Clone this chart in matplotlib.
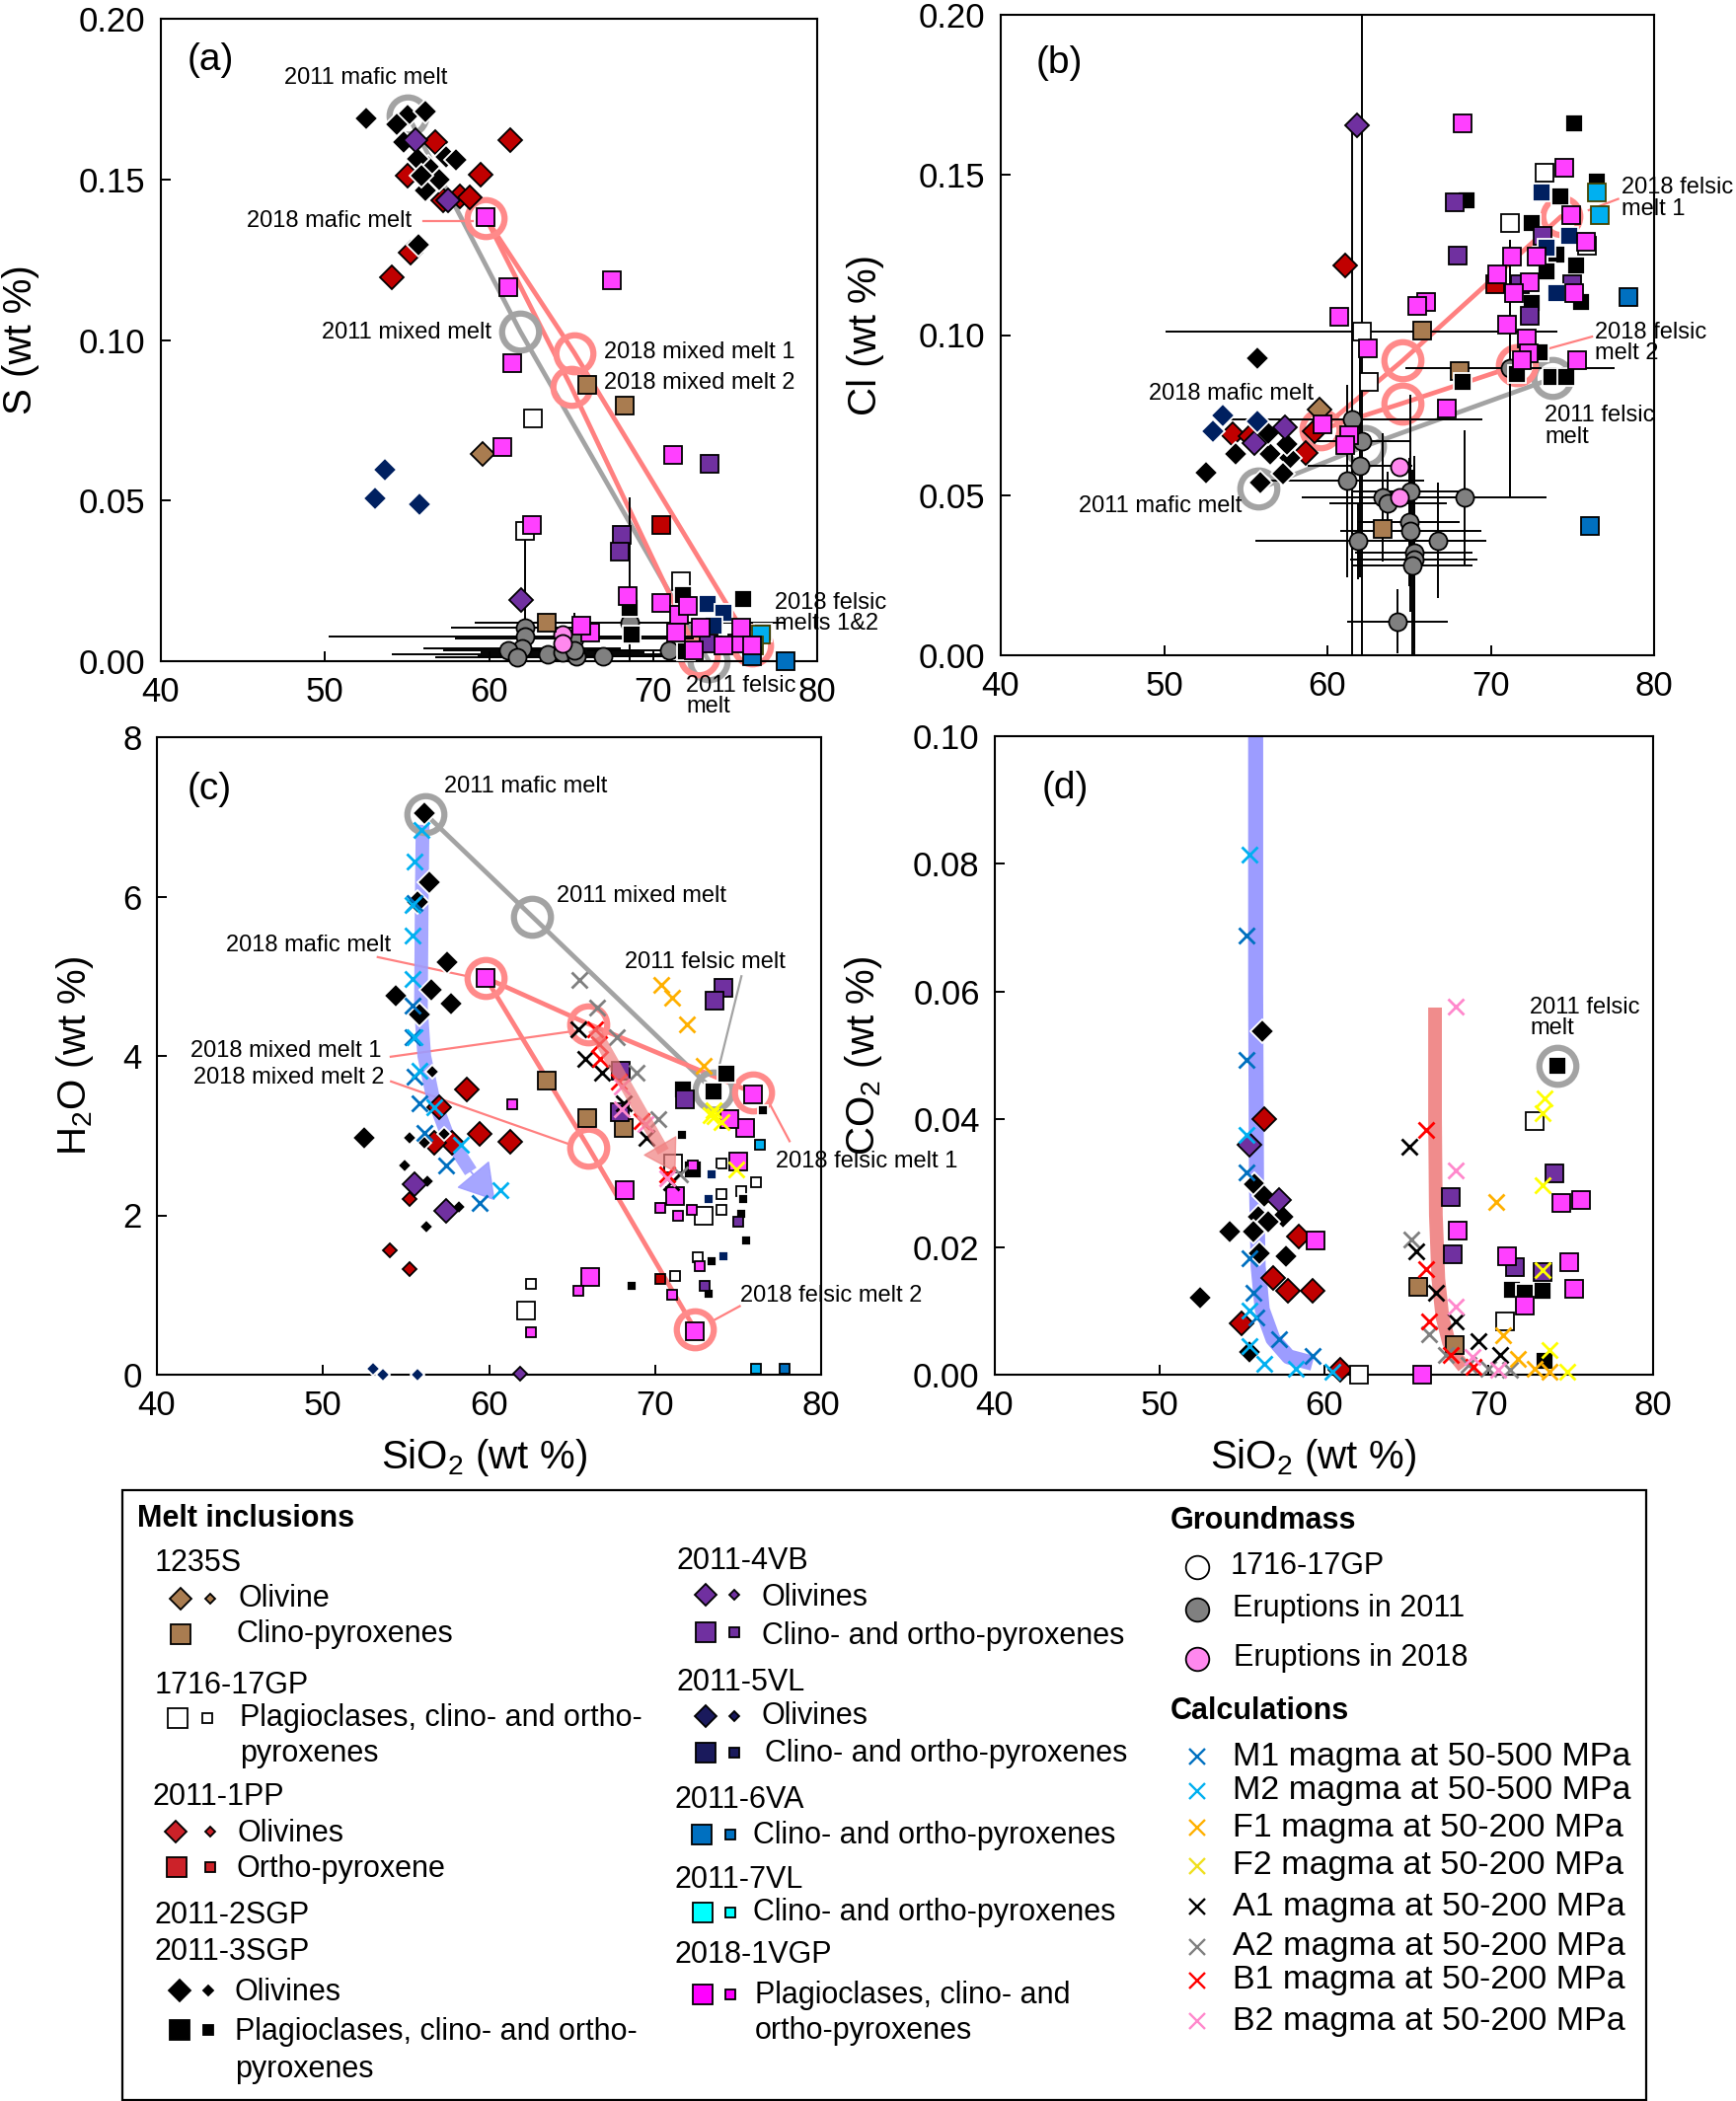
import matplotlib
matplotlib.use('Agg')
import matplotlib.pyplot as plt
from matplotlib.patches import Rectangle

plt.rcParams['font.family'] = ['Liberation Sans', 'DejaVu Sans']
plt.rcParams['mathtext.fontset'] = 'custom'
plt.rcParams['mathtext.rm'] = 'Liberation Sans'
plt.rcParams['mathtext.it'] = 'Liberation Sans:italic'
plt.rcParams['mathtext.bf'] = 'Liberation Sans:bold'

# ---------------- colours ----------------
BROWN = '#A97C50'; RED = '#C00000'; PURPLE = '#7030A0'; NAVY = '#002060'
BLUE6 = '#0070C0'; CYAN7 = '#00B0F0'; MAG = '#FF40FF'; GREY = '#808080'; GPINK = '#FF88EE'
C_M1 = '#0070C0'; C_M2 = '#00B0F0'; C_F1 = '#FFB000'; C_F2 = '#FFFF00'
C_A1 = '#000000'; C_A2 = '#808080'; C_B1 = '#FF0000'; C_B2 = '#FF88CC'
RING_G = '#A3A3A3'; RING_P = '#FF8A8A'; LINE_P = '#FF8080'

# ---------------- Panel (a) : S ----------------
A_SGP_OL_X = [52.5, 55.05, 56.1, 54.4, 54.8, 56.3, 57.4, 58.0, 55.65, 56.1, 55.7, 56.95, 55.9]
A_SGP_OL_Y = [0.169, 0.170, 0.171, 0.167, 0.1616, 0.154, 0.157, 0.156, 0.1564, 0.1466, 0.1297, 0.150, 0.151]
A_PP_OL_X = [56.7, 55.05, 57.2, 58.2, 58.8, 59.5, 61.3, 55.2, 54.1]
A_PP_OL_Y = [0.1616, 0.151, 0.1434, 0.1448, 0.1444, 0.1516, 0.1622, 0.1273, 0.1194]
A_VB_OL_X = [55.5, 57.5, 61.95]
A_VB_OL_Y = [0.1622, 0.1434, 0.019]
A_S1235_OL_X = [59.6]
A_S1235_OL_Y = [0.0645]
A_VL5_OL_X = [53.65, 53.05, 55.76]
A_VL5_OL_Y = [0.0597, 0.0508, 0.049]
A_VGP_X = [59.8, 61.2, 67.5, 61.4, 60.8, 62.6, 71.2, 68.45, 70.5, 71.6, 72.1, 72.9, 66.15, 65.6,
           71.4, 72.5, 75.1, 75.35, 76.0, 74.3]
A_VGP_Y = [0.1382, 0.1164, 0.1187, 0.0927, 0.0666, 0.0423, 0.0641, 0.0204, 0.0182, 0.0145, 0.0172,
           0.0103, 0.009, 0.011, 0.009, 0.0035, 0.0055, 0.0103, 0.0049, 0.0049]
A_S1235_CPX_X = [65.96, 68.3, 63.5]
A_S1235_CPX_Y = [0.0861, 0.0796, 0.0121]
A_GP_PX_X = [62.7, 62.2, 71.7]
A_GP_PX_Y = [0.0755, 0.0405, 0.0248]
A_VB_PX_X = [73.45, 68.1, 67.96, 73.4]
A_VB_PX_Y = [0.0614, 0.0392, 0.0341, 0.0056]
A_PP_OPX_X = [70.5]
A_PP_OPX_Y = [0.0423]
A_SGP_PX_X = [71.8, 75.5, 68.6, 68.7, 76.7, 72.0]
A_SGP_PX_Y = [0.0206, 0.0193, 0.0165, 0.0083, 0.009, 0.003]
A_VL5_PX_X = [73.3, 74.3, 73.7]
A_VL5_PX_Y = [0.0179, 0.0152, 0.011]
A_VL7_PX_X = [76.56, 76.15]
A_VL7_PX_Y = [0.0083, 0.0049]
A_VA6_PX_X = [78.05, 76.0]
A_VA6_PX_Y = [0.0, 0.0014]
A_GM11_X = [62.2, 62.2, 62.0, 61.2, 63.6, 64.5, 65.2, 65.3, 66.95, 68.6, 71.0, 61.7, 65.2]
A_GM11_Y = [0.0104, 0.0076, 0.004, 0.0035, 0.0021, 0.0028, 0.007, 0.0014, 0.0014, 0.0121, 0.0035, 0.0012, 0.0035]
A_GM11_XERR = [4.5, 12, 6, 4, 9.5, 5, 7.3, 6, 4, 9.5, 5, 5, 4]
A_GM11_YERR = [0.032, 0.002, 0.002, 0.002, 0.002, 0.002, 0.008, 0.002, 0.002, 0.039, 0.002, 0.002, 0.002]
A_GM18_X = [64.5, 64.5]
A_GM18_Y = [0.0083, 0.0056]
A_M2011_X = [55.05, 61.9, 73.4]
A_M2011_Y = [0.170, 0.1027, 0.0]
A_M2018_1_X = [59.8, 65.2, 76.0]
A_M2018_1_Y = [0.138, 0.096, 0.005]
A_M2018_2_X = [59.8, 65.0, 72.8]
A_M2018_2_Y = [0.138, 0.0855, 0.0015]

# ---------------- Panel (b) : Cl ----------------
B_SGP_OL_X = [55.7, 52.55, 54.36, 56.5, 57.7, 55.9, 57.3, 56.4, 57.5]
B_SGP_OL_Y = [0.0928, 0.0571, 0.0628, 0.0628, 0.0617, 0.054, 0.0566, 0.0694, 0.0658]
B_PP_OL_X = [61.1, 54.2, 55.3, 58.7, 59.2]
B_PP_OL_Y = [0.1216, 0.0689, 0.0684, 0.0633, 0.070]
B_VB_OL_X = [61.8, 57.4, 55.5]
B_VB_OL_Y = [0.1654, 0.0712, 0.0664]
B_VL5_OL_X = [53.6, 53.0, 55.7]
B_VL5_OL_Y = [0.075, 0.0698, 0.073]
B_S1235_OL_X = [59.5]
B_S1235_OL_Y = [0.0766]
B_VGP_X = [68.25, 74.5, 74.9, 75.85, 71.27, 72.8, 70.4, 72.4, 71.4, 75.1, 71.0, 72.2, 72.35, 71.9,
           75.3, 66.06, 65.5, 60.7, 62.47, 67.3, 59.7, 61.3, 61.1]
B_VGP_Y = [0.1661, 0.1521, 0.1373, 0.129, 0.1246, 0.1246, 0.1191, 0.1164, 0.1132, 0.1132, 0.1031,
           0.0988, 0.0944, 0.092, 0.092, 0.1102, 0.109, 0.1057, 0.0958, 0.0771, 0.0722, 0.0687, 0.0655]
B_S1235_CPX_X = [65.8, 68.1, 63.4]
B_S1235_CPX_Y = [0.1013, 0.0889, 0.0395]
B_GP_PX_X = [73.3, 71.2, 62.1, 62.55, 75.9]
B_GP_PX_Y = [0.1507, 0.135, 0.1011, 0.0855, 0.128]
B_GP_PX_XERR = [0, 0, 12, 0, 0]
B_SGP_PX_X = [75.1, 76.5, 68.5, 74.25, 72.5, 75.2, 75.5, 73.0, 68.25, 73.7, 74.6, 71.6, 72.5, 74.0, 73.4]
B_SGP_PX_Y = [0.1661, 0.148, 0.1421, 0.1434, 0.135, 0.1218, 0.1102, 0.0946, 0.0855, 0.0869, 0.0869,
              0.0878, 0.110, 0.125, 0.120]
B_VB_PX_X = [67.8, 67.96, 73.2, 72.4, 75.0, 71.8]
B_VB_PX_Y = [0.1414, 0.1249, 0.131, 0.106, 0.116, 0.116]
B_VL5_PX_X = [73.1, 74.8, 73.4, 74.0]
B_VL5_PX_Y = [0.1446, 0.131, 0.1274, 0.1132]
B_VL7_PX_X = [76.5, 76.7]
B_VL7_PX_Y = [0.1446, 0.1374]
B_VA6_PX_X = [78.4, 76.1]
B_VA6_PX_Y = [0.112, 0.0404]
B_PP_OPX_X = [70.3]
B_PP_OPX_Y = [0.116]
B_GM11_X = [61.5, 62.1, 62.0, 61.2, 63.4, 65.1, 63.7, 68.4, 65.0, 65.1, 61.9, 66.75, 65.3, 65.3, 65.2, 64.3, 71.2]
B_GM11_Y = [0.0735, 0.0669, 0.0592, 0.0544, 0.0494, 0.0513, 0.0474, 0.0494, 0.0417, 0.0387, 0.0356,
            0.0359, 0.0322, 0.0298, 0.028, 0.0105, 0.0896]
B_GM11_XERR = [8.0, 3.0, 3.2, 4.7, 5.0, 3.5, 3.6, 5.0, 3.1, 4.3, 6.3, 3.0, 3.6, 3.9, 3.7, 3.1, 6.4]
B_GM11_YERR = [0.092, 0.14, 0.035, 0.03, 0.02, 0.03, 0.01, 0.021, 0.02, 0.025, 0.012, 0.018, 0.03,
               0.03, 0.03, 0.01, 0.04]
B_GM18_X = [64.4, 64.4]
B_GM18_Y = [0.059, 0.0494]
B_M2011_X = [55.8, 62.3, 73.8]
B_M2011_Y = [0.052, 0.0653, 0.0865]
B_M2018_1_X = [59.6, 64.6, 74.3]
B_M2018_1_Y = [0.0705, 0.092, 0.137]
B_M2018_2_X = [59.6, 64.6, 71.6]
B_M2018_2_Y = [0.0705, 0.0787, 0.0905]

# ---------------- Panel (c) : H2O ----------------
C_SGP_OL_X = [56.1, 56.4, 55.7, 57.5, 54.4, 56.5, 57.7, 55.8, 52.5]
C_SGP_OL_Y = [7.05, 6.18, 5.93, 5.18, 4.76, 4.83, 4.66, 4.52, 2.97]
C_SGP_OLS_X = [56.6, 55.2, 56.1, 57.3, 54.9, 56.3, 58.2, 56.2]
C_SGP_OLS_Y = [3.80, 2.97, 2.91, 3.02, 2.63, 2.43, 2.10, 1.86]
C_PP_OL_X = [58.65, 59.45, 61.25, 57.0, 57.8, 56.7]
C_PP_OL_Y = [3.58, 3.02, 2.92, 3.35, 2.91, 2.91]
C_PP_OLS_X = [54.0, 55.2, 55.2]
C_PP_OLS_Y = [1.56, 1.33, 2.21]
C_VB_OL_X = [55.5, 57.4]
C_VB_OL_Y = [2.39, 2.06]
C_VL5_OLS_X = [53.0, 53.6, 55.7]
C_VL5_OLS_Y = [0.08, 0.0, 0.0]
C_VB_OLS_X = [61.9]
C_VB_OLS_Y = [0.01]
C_VGP_X = [59.8, 75.9, 75.4, 74.5, 75.0, 71.2, 68.2, 66.1, 72.4]
C_VGP_Y = [4.98, 3.52, 3.10, 3.21, 2.68, 2.24, 2.32, 1.22, 0.55]
C_VGPS_X = [61.4, 62.5, 65.4, 70.3, 71.4, 72.2, 72.3, 71.0, 72.7]
C_VGPS_Y = [3.39, 0.53, 1.05, 2.09, 1.99, 2.07, 2.63, 1.00, 1.36]
C_S1235_CPX_X = [63.5, 65.9, 68.1]
C_S1235_CPX_Y = [3.69, 3.22, 3.09]
C_GP_PX_X = [62.2, 72.95, 71.1]
C_GP_PX_Y = [0.80, 1.99, 2.65]
C_GP_PXS_X = [62.5, 71.2, 74.0, 74.0, 74.0, 76.1, 72.55, 75.2]
C_GP_PXS_Y = [1.14, 1.24, 2.65, 2.27, 2.07, 2.42, 1.47, 2.30]
C_VB_PX_X = [74.1, 73.6, 71.8, 67.95, 67.9]
C_VB_PX_Y = [4.85, 4.69, 3.45, 3.82, 3.29]
C_VB_PXS_X = [73.0, 75.0]
C_VB_PXS_Y = [1.11, 1.92]
C_SGP_PX_X = [71.7, 74.3, 73.5, 72.3]
C_SGP_PX_Y = [3.58, 3.78, 3.55, 2.57]
C_SGP_PXS_X = [76.5, 71.6, 75.3, 75.2, 75.5, 73.4, 73.2, 68.6]
C_SGP_PXS_Y = [3.32, 3.01, 2.21, 2.02, 1.69, 1.42, 1.02, 1.11]
C_VL5_PXS_X = [73.4, 73.2, 74.1]
C_VL5_PXS_Y = [2.51, 2.21, 1.49]
C_PP_OPXS_X = [70.3]
C_PP_OPXS_Y = [1.20]
C_VL7_PXS_X = [76.3, 76.1]
C_VL7_PXS_Y = [2.88, 0.08]
C_VA6_PXS_X = [77.8]
C_VA6_PXS_Y = [0.08]
C_M1_X = [55.5, 55.4, 55.4, 55.5, 55.8, 56.1, 57.4, 59.45]
C_M1_Y = [5.92, 4.63, 4.23, 3.74, 3.41, 3.04, 2.63, 2.16]
C_M2_X = [55.9, 55.5, 55.4, 55.4, 55.4, 55.5, 55.8, 56.7, 58.3, 60.7]
C_M2_Y = [6.83, 6.44, 5.89, 5.51, 4.96, 4.23, 3.82, 3.35, 2.88, 2.32]
C_F1_X = [70.4, 71.0, 71.9, 72.9]
C_F1_Y = [4.89, 4.73, 4.40, 3.88]
C_F2_X = [73.5, 73.6, 74.0, 73.35, 74.9]
C_F2_Y = [3.32, 3.24, 3.17, 3.26, 2.58]
C_A1_X = [65.4, 65.8, 66.8, 68.1, 69.5, 70.95]
C_A1_Y = [4.33, 3.96, 3.79, 3.40, 2.97, 2.41]
C_A2_X = [65.45, 66.5, 67.7, 68.9, 70.2, 71.5]
C_A2_Y = [4.95, 4.61, 4.24, 3.79, 3.21, 2.52]
C_B1_X = [66.4, 66.6, 66.7, 67.8, 69.2, 70.7]
C_B1_Y = [4.34, 4.15, 3.96, 3.68, 3.18, 2.52]
C_B2_X = [68.0, 68.0, 69.4, 70.7]
C_B2_Y = [3.62, 3.33, 3.14, 2.46]
C_M2011_X = [56.15, 62.6, 73.5]
C_M2011_Y = [7.04, 5.75, 3.57]
C_M2018_1_X = [59.8, 66.0, 75.9]
C_M2018_1_Y = [4.98, 4.40, 3.54]
C_M2018_2_X = [59.8, 66.0, 72.4]
C_M2018_2_Y = [4.98, 2.85, 0.57]
C_TREND_M_X = [56.0, 55.95, 55.9, 56.1, 56.6, 57.5, 58.9]
C_TREND_M_Y = [6.9, 6.0, 4.6, 4.0, 3.5, 3.0, 2.55]
C_TREND_M_TIP = (60.3, 2.2)
C_TREND_F_X = [66.3, 70.5]
C_TREND_F_Y = [4.34, 2.8]
C_TREND_F_TIP = (71.2, 2.55)

# ---------------- Panel (d) : CO2 ----------------
D_SGP_OL_X = [56.25, 55.8, 56.4, 56.0, 57.5, 54.3, 55.7, 56.1, 57.7, 56.6, 52.45, 55.5]
D_SGP_OL_Y = [0.0538, 0.0299, 0.0279, 0.0248, 0.0248, 0.0224, 0.0224, 0.019, 0.0186, 0.024, 0.0121, 0.0035]
D_PP_OL_X = [56.4, 56.9, 57.8, 59.3, 58.5, 55.0, 61.0]
D_PP_OL_Y = [0.0401, 0.0152, 0.0131, 0.0131, 0.0216, 0.008, 0.0007]
D_VB_OL_X = [55.45, 57.3]
D_VB_OL_Y = [0.036, 0.0273]
D_VGP_X = [59.5, 65.95, 68.1, 74.45, 75.6, 71.1, 72.2, 74.9, 75.2]
D_VGP_Y = [0.021, 0.0, 0.0226, 0.0269, 0.0274, 0.0186, 0.0108, 0.0176, 0.0135]
D_VB_PX_X = [67.7, 67.8, 74.0, 71.6, 73.3]
D_VB_PX_Y = [0.0278, 0.0188, 0.0316, 0.0168, 0.016]
D_S1235_CPX_X = [65.7, 67.96]
D_S1235_CPX_Y = [0.0138, 0.0046]
D_GP_PX_X = [62.1, 72.8, 71.0]
D_GP_PX_Y = [0.0, 0.0397, 0.0083]
D_SGP_PX_X = [74.2, 71.4, 72.2, 73.3, 73.4]
D_SGP_PX_Y = [0.0483, 0.0133, 0.0128, 0.0131, 0.0021]
D_M1_X = [55.3, 55.3, 55.3, 55.5, 55.7, 55.9, 57.3, 59.3]
D_M1_Y = [0.0688, 0.0493, 0.0317, 0.0183, 0.0129, 0.009, 0.0055, 0.003]
D_M2_X = [55.5, 55.3, 55.5, 55.5, 56.4, 58.3, 60.5]
D_M2_Y = [0.0814, 0.0376, 0.010, 0.0045, 0.0017, 0.001, 0.0004]
D_F1_X = [70.45, 70.9, 71.8, 72.8, 73.7]
D_F1_Y = [0.0271, 0.0062, 0.0024, 0.001, 0.0004]
D_F2_X = [73.4, 73.3, 73.3, 73.3, 73.7, 74.8]
D_F2_Y = [0.0432, 0.041, 0.0297, 0.0164, 0.0038, 0.0004]
D_A1_X = [65.2, 65.6, 66.8, 68.0, 69.4, 70.7]
D_A1_Y = [0.0357, 0.0193, 0.0128, 0.0083, 0.0053, 0.0031]
D_A2_X = [65.3, 66.4, 67.4, 68.8, 70.0, 71.3]
D_A2_Y = [0.0212, 0.0064, 0.0031, 0.0016, 0.001, 0.0007]
D_B1_X = [66.2, 66.2, 66.4, 67.7, 69.1]
D_B1_Y = [0.0383, 0.0166, 0.0083, 0.0031, 0.0012]
D_B2_X = [68.0, 68.0, 68.0, 69.0, 70.6]
D_B2_Y = [0.0577, 0.032, 0.0107, 0.0028, 0.0007]
D_M2011_FELSIC = (74.2, 0.0483)
D_TREND_M_X = [55.85, 55.85, 55.9, 56.0, 56.25, 56.9, 57.85, 59.3]
D_TREND_M_Y = [0.104, 0.06, 0.03, 0.017, 0.0102, 0.0056, 0.0028, 0.0018]
D_TREND_F_X = [66.75, 66.75, 66.8, 66.95, 67.2, 67.6, 68.1, 68.5]
D_TREND_F_Y = [0.0575, 0.04, 0.025, 0.015, 0.009, 0.005, 0.0025, 0.0012]

X_TICKS = [40, 50, 60, 70, 80]

# ---------------- figure ----------------
W, H = 1759, 2129
fig = plt.figure(figsize=(W / 100, H / 100), dpi=100)


def box(l, t, r, b):
    return [l / W, (H - b) / H, (r - l) / W, (b - t) / H]


L_SQ, S_SQ, L_DI, S_DI, CIRC, XMS, XMEW = 13, 7, 12, 7.5, 13, 11, 2.0


def mk(ax, x, y, marker, fc, ec, ms, mew=1.3, z=4):
    ax.plot(x, y, ls='none', marker=marker, mfc=fc, mec=ec, ms=ms, mew=mew, zorder=z, clip_on=False)


def cross(ax, x, y, c):
    ax.plot(x, y, ls='none', marker='x', ms=XMS, mew=XMEW, color=c, zorder=6, clip_on=False)


def ring(ax, x, y, c):
    ax.plot([x], [y], ls='none', marker='o', ms=27, mfc='none', mec=c, mew=4.5, zorder=2.5, clip_on=False)


def path(ax, x, y, c):
    ax.plot(x, y, color=c, lw=3.4, zorder=2, solid_capstyle='round')


def lead(ax, x, y, c=LINE_P):
    ax.plot(x, y, color=c, lw=1.6, zorder=2)


def style(ax, ylim, yticks, yfmt):
    ax.set_xlim(40, 80)
    ax.set_ylim(*ylim)
    ax.set_xticks(X_TICKS)
    ax.set_xticklabels([str(v) for v in X_TICKS])
    ax.set_yticks(yticks)
    ax.set_yticklabels([yfmt.format(v) for v in yticks])
    ax.tick_params(direction='in', length=7, width=1.4, labelsize=25, pad=11)
    for s in ax.spines.values():
        s.set_linewidth(1.5)


ANN = 17

# ===== Panel (a) =====
ax = fig.add_axes(box(163, 19, 828, 670))
style(ax, (0, 0.2), [0, 0.05, 0.10, 0.15, 0.20], '{:.2f}')
path(ax, A_M2011_X, A_M2011_Y, RING_G)
path(ax, A_M2018_1_X, A_M2018_1_Y, LINE_P)
path(ax, A_M2018_2_X, A_M2018_2_Y, LINE_P)
for xx, yy in zip(A_M2011_X, A_M2011_Y):
    ring(ax, xx, yy, RING_G)
for xx, yy in zip(A_M2018_1_X + A_M2018_2_X[1:], A_M2018_1_Y + A_M2018_2_Y[1:]):
    ring(ax, xx, yy, RING_P)
ax.errorbar(A_GM11_X, A_GM11_Y, xerr=A_GM11_XERR, yerr=A_GM11_YERR, fmt='none', ecolor='k',
            elinewidth=1.4, zorder=2.8)
mk(ax, A_GM11_X, A_GM11_Y, 'o', GREY, 'k', CIRC, z=3)
mk(ax, A_GM18_X, A_GM18_Y, 'o', GPINK, 'k', CIRC, z=3)
mk(ax, A_PP_OL_X, A_PP_OL_Y, 'D', RED, 'k', L_DI, z=3.4)
mk(ax, A_SGP_OL_X, A_SGP_OL_Y, 'D', 'k', 'w', L_DI, z=3.5)
mk(ax, A_VB_OL_X, A_VB_OL_Y, 'D', PURPLE, 'k', L_DI, z=3.6)
mk(ax, A_VL5_OL_X, A_VL5_OL_Y, 'D', NAVY, 'w', L_DI, z=3.6)
mk(ax, A_S1235_OL_X, A_S1235_OL_Y, 'D', BROWN, 'k', L_DI, z=3.6)
mk(ax, A_GP_PX_X, A_GP_PX_Y, 's', 'w', 'k', L_SQ)
mk(ax, A_S1235_CPX_X, A_S1235_CPX_Y, 's', BROWN, 'k', L_SQ)
mk(ax, A_SGP_PX_X, A_SGP_PX_Y, 's', 'k', 'w', L_SQ)
mk(ax, A_VL5_PX_X, A_VL5_PX_Y, 's', NAVY, 'w', L_SQ)
mk(ax, A_VB_PX_X, A_VB_PX_Y, 's', PURPLE, 'k', L_SQ)
mk(ax, A_PP_OPX_X, A_PP_OPX_Y, 's', RED, 'k', L_SQ)
mk(ax, A_VL7_PX_X, A_VL7_PX_Y, 's', CYAN7, '#444400', L_SQ)
mk(ax, A_VA6_PX_X, A_VA6_PX_Y, 's', BLUE6, 'k', L_SQ)
mk(ax, A_VGP_X, A_VGP_Y, 's', MAG, 'k', L_SQ, z=4.2)
ax.text(43.0, 0.187, '(a)', fontsize=28, ha='center', va='center')
ax.text(52.5, 0.1815, '2011 mafic melt', fontsize=ANN, ha='center', va='center')
ax.text(50.25, 0.137, '2018 mafic melt', fontsize=ANN, ha='center', va='center')
lead(ax, [56.0, 59.0], [0.137, 0.137])
ax.text(55.0, 0.1023, '2011 mixed melt', fontsize=ANN, ha='center', va='center')
ax.text(67.0, 0.0962, '2018 mixed melt 1', fontsize=ANN, ha='left', va='center')
ax.text(67.0, 0.0866, '2018 mixed melt 2', fontsize=ANN, ha='left', va='center')
ax.text(77.4, 0.015, '2018 felsic\nmelts 1&2', fontsize=ANN, ha='left', va='center', linespacing=0.95)
ax.text(72.0, -0.011, '2011 felsic\nmelt', fontsize=ANN, ha='left', va='center', linespacing=0.95,
        clip_on=False, zorder=10)
ax.set_ylabel('S (wt %)', fontsize=29)
ax.yaxis.set_label_coords(-0.185, 0.5)

# ===== Panel (b) =====
ax = fig.add_axes(box(1014, 15, 1676, 664))
style(ax, (0, 0.2), [0, 0.05, 0.10, 0.15, 0.20], '{:.2f}')
path(ax, B_M2011_X, B_M2011_Y, RING_G)
path(ax, B_M2018_1_X, B_M2018_1_Y, LINE_P)
path(ax, B_M2018_2_X, B_M2018_2_Y, LINE_P)
for xx, yy in zip(B_M2011_X, B_M2011_Y):
    ring(ax, xx, yy, RING_G)
for xx, yy in zip(B_M2018_1_X + B_M2018_2_X[1:], B_M2018_1_Y + B_M2018_2_Y[1:]):
    ring(ax, xx, yy, RING_P)
ax.errorbar(B_GM11_X, B_GM11_Y, xerr=B_GM11_XERR, yerr=B_GM11_YERR, fmt='none', ecolor='k',
            elinewidth=1.4, zorder=2.8)
ax.errorbar(B_GP_PX_X, B_GP_PX_Y, xerr=B_GP_PX_XERR, fmt='none', ecolor='k', elinewidth=1.4, zorder=2.8)
mk(ax, B_GM11_X, B_GM11_Y, 'o', GREY, 'k', CIRC, z=3)
mk(ax, B_GM18_X, B_GM18_Y, 'o', GPINK, 'k', CIRC, z=3)
mk(ax, B_PP_OL_X, B_PP_OL_Y, 'D', RED, 'k', L_DI, z=3.4)
mk(ax, B_SGP_OL_X, B_SGP_OL_Y, 'D', 'k', 'w', L_DI, z=3.5)
mk(ax, B_VB_OL_X, B_VB_OL_Y, 'D', PURPLE, 'k', L_DI, z=3.6)
mk(ax, B_VL5_OL_X, B_VL5_OL_Y, 'D', NAVY, 'w', L_DI, z=3.6)
mk(ax, B_S1235_OL_X, B_S1235_OL_Y, 'D', BROWN, 'k', L_DI, z=3.3)
mk(ax, B_GP_PX_X, B_GP_PX_Y, 's', 'w', 'k', L_SQ)
mk(ax, B_S1235_CPX_X, B_S1235_CPX_Y, 's', BROWN, 'k', L_SQ)
mk(ax, B_SGP_PX_X, B_SGP_PX_Y, 's', 'k', 'w', L_SQ)
mk(ax, B_VB_PX_X, B_VB_PX_Y, 's', PURPLE, 'k', L_SQ)
mk(ax, B_VL5_PX_X, B_VL5_PX_Y, 's', NAVY, 'w', L_SQ)
mk(ax, B_PP_OPX_X, B_PP_OPX_Y, 's', RED, 'k', L_SQ)
mk(ax, B_VL7_PX_X, B_VL7_PX_Y, 's', CYAN7, '#444400', L_SQ)
mk(ax, B_VA6_PX_X, B_VA6_PX_Y, 's', BLUE6, 'k', L_SQ)
mk(ax, B_VGP_X, B_VGP_Y, 's', MAG, 'k', L_SQ, z=4.2)
ax.text(43.6, 0.185, '(b)', fontsize=28, ha='center', va='center')
ax.text(78.0, 0.1427, '2018 felsic\nmelt 1', fontsize=ANN, ha='left', va='center', linespacing=0.95)
lead(ax, [77.8, 76.0], [0.1425, 0.139])
ax.text(76.4, 0.0975, '2018 felsic\nmelt 2', fontsize=ANN, ha='left', va='center', linespacing=0.95)
lead(ax, [76.2, 73.0], [0.0995, 0.095])
ax.text(54.1, 0.0816, '2018 mafic melt', fontsize=ANN, ha='center', va='center')
ax.text(49.75, 0.0464, '2011 mafic melt', fontsize=ANN, ha='center', va='center')
ax.text(73.3, 0.0715, '2011 felsic\nmelt', fontsize=ANN, ha='left', va='center', linespacing=0.95)
ax.set_ylabel('Cl (wt %)', fontsize=29)
ax.yaxis.set_label_coords(-0.178, 0.5)

# ===== Panel (c) =====
ax = fig.add_axes(box(159, 747, 832, 1393))
style(ax, (0, 8), [0, 2, 4, 6, 8], '{:d}')
path(ax, C_M2011_X, C_M2011_Y, RING_G)
path(ax, C_M2018_1_X, C_M2018_1_Y, LINE_P)
path(ax, C_M2018_2_X, C_M2018_2_Y, LINE_P)
for xx, yy in zip(C_M2011_X, C_M2011_Y):
    ring(ax, xx, yy, RING_G)
for xx, yy in zip(C_M2018_1_X + C_M2018_2_X[1:], C_M2018_1_Y + C_M2018_2_Y[1:]):
    ring(ax, xx, yy, RING_P)
ax.plot(C_TREND_M_X, C_TREND_M_Y, color='#9C9CFF', lw=10, alpha=0.9, zorder=2.2, solid_capstyle='butt')
ax.annotate('', xy=C_TREND_M_TIP, xytext=(C_TREND_M_X[-1], C_TREND_M_Y[-1]),
            arrowprops=dict(arrowstyle='simple,head_length=0.9,head_width=1.1,tail_width=0.01',
                            color='#9C9CFF', alpha=0.9, shrinkA=0, shrinkB=0, mutation_scale=26), zorder=2.2)
ax.plot(C_TREND_F_X, C_TREND_F_Y, color='#F07F7F', lw=9, alpha=0.7, zorder=6.5, solid_capstyle='butt')
ax.annotate('', xy=C_TREND_F_TIP, xytext=(C_TREND_F_X[-1], C_TREND_F_Y[-1]),
            arrowprops=dict(arrowstyle='simple,head_length=0.9,head_width=1.1,tail_width=0.01',
                            color='#F07F7F', alpha=0.7, shrinkA=0, shrinkB=0, mutation_scale=24), zorder=6.5)
mk(ax, C_PP_OL_X, C_PP_OL_Y, 'D', RED, 'k', L_DI, z=3.4)
mk(ax, C_PP_OLS_X, C_PP_OLS_Y, 'D', RED, 'k', S_DI, z=3.4)
mk(ax, C_SGP_OL_X, C_SGP_OL_Y, 'D', 'k', 'w', L_DI, z=3.5)
mk(ax, C_SGP_OLS_X, C_SGP_OLS_Y, 'D', 'k', 'w', S_DI, z=3.5)
mk(ax, C_VB_OL_X, C_VB_OL_Y, 'D', PURPLE, 'k', L_DI, z=3.6)
mk(ax, C_VB_OLS_X, C_VB_OLS_Y, 'D', PURPLE, 'k', S_DI, z=3.6)
mk(ax, C_VL5_OLS_X, C_VL5_OLS_Y, 'D', NAVY, 'w', S_DI, z=3.6)
mk(ax, C_GP_PX_X, C_GP_PX_Y, 's', 'w', 'k', L_SQ)
mk(ax, C_GP_PXS_X, C_GP_PXS_Y, 's', 'w', 'k', S_SQ)
mk(ax, C_S1235_CPX_X, C_S1235_CPX_Y, 's', BROWN, 'k', L_SQ)
mk(ax, C_SGP_PX_X, C_SGP_PX_Y, 's', 'k', 'w', L_SQ)
mk(ax, C_SGP_PXS_X, C_SGP_PXS_Y, 's', 'k', 'w', S_SQ)
mk(ax, C_VB_PX_X, C_VB_PX_Y, 's', PURPLE, 'k', L_SQ)
mk(ax, C_VB_PXS_X, C_VB_PXS_Y, 's', PURPLE, 'k', S_SQ)
mk(ax, C_VL5_PXS_X, C_VL5_PXS_Y, 's', NAVY, 'w', S_SQ)
mk(ax, C_PP_OPXS_X, C_PP_OPXS_Y, 's', RED, 'k', S_SQ)
mk(ax, C_VL7_PXS_X, C_VL7_PXS_Y, 's', CYAN7, 'k', S_SQ)
mk(ax, C_VA6_PXS_X, C_VA6_PXS_Y, 's', BLUE6, 'k', S_SQ)
mk(ax, C_VGP_X, C_VGP_Y, 's', MAG, 'k', L_SQ, z=4.2)
mk(ax, C_VGPS_X, C_VGPS_Y, 's', MAG, 'k', S_SQ, z=4.2)
cross(ax, C_A2_X, C_A2_Y, C_A2)
cross(ax, C_A1_X, C_A1_Y, C_A1)
cross(ax, C_B1_X, C_B1_Y, C_B1)
cross(ax, C_B2_X, C_B2_Y, C_B2)
cross(ax, C_F1_X, C_F1_Y, C_F1)
cross(ax, C_F2_X, C_F2_Y, C_F2)
cross(ax, C_M1_X, C_M1_Y, C_M1)
cross(ax, C_M2_X, C_M2_Y, C_M2)
ax.text(43.15, 7.34, '(c)', fontsize=28, ha='center', va='center')
ax.text(57.3, 7.38, '2011 mafic melt', fontsize=ANN, ha='left', va='center')
ax.text(64.1, 6.0, '2011 mixed melt', fontsize=ANN, ha='left', va='center')
ax.text(54.1, 5.39, '2018 mafic melt', fontsize=ANN, ha='right', va='center')
lead(ax, [53.3, 58.7], [5.24, 5.0])
ax.text(68.2, 5.18, '2011 felsic melt', fontsize=ANN, ha='left', va='center')
lead(ax, [75.2, 73.8], [5.0, 3.82], RING_G)
ax.text(53.55, 4.06, '2018 mixed melt 1', fontsize=ANN, ha='right', va='center')
lead(ax, [54.08, 65.4], [3.99, 4.32])
ax.text(53.7, 3.73, '2018 mixed melt 2', fontsize=ANN, ha='right', va='center')
lead(ax, [54.1, 65.0], [3.68, 2.88])
ax.text(77.25, 2.67, '2018 felsic melt 1', fontsize=ANN, ha='left', va='center')
lead(ax, [78.1, 76.9], [2.93, 3.4])
ax.text(75.1, 0.99, '2018 felsic melt 2', fontsize=ANN, ha='left', va='center')
lead(ax, [75.1, 73.6], [0.86, 0.69])
ax.set_ylabel('H$_2$O (wt %)', fontsize=29)
ax.yaxis.set_label_coords(-0.092, 0.5)
ax.set_xlabel('SiO$_2$ (wt %)', fontsize=29)
ax.xaxis.set_label_coords(0.492, -0.098)

# ===== Panel (d) =====
ax = fig.add_axes(box(1008, 746, 1675, 1393))
style(ax, (0, 0.1), [0, 0.02, 0.04, 0.06, 0.08, 0.10], '{:.2f}')
ax.plot(D_TREND_M_X, D_TREND_M_Y, color='#9C9CFF', lw=11, zorder=2.2, solid_capstyle='butt')
ax.plot(D_TREND_F_X, D_TREND_F_Y, color='#F08C8C', lw=10, zorder=2.2, solid_capstyle='butt')
ring(ax, D_M2011_FELSIC[0], D_M2011_FELSIC[1], RING_G)
mk(ax, D_PP_OL_X, D_PP_OL_Y, 'D', RED, 'k', L_DI, z=3.4)
mk(ax, D_SGP_OL_X, D_SGP_OL_Y, 'D', 'k', 'w', L_DI, z=3.5)
mk(ax, D_VB_OL_X, D_VB_OL_Y, 'D', PURPLE, 'k', L_DI, z=3.6)
mk(ax, D_GP_PX_X, D_GP_PX_Y, 's', 'w', 'k', L_SQ)
mk(ax, D_S1235_CPX_X, D_S1235_CPX_Y, 's', BROWN, 'k', L_SQ)
mk(ax, D_SGP_PX_X, D_SGP_PX_Y, 's', 'k', 'w', L_SQ)
mk(ax, D_VB_PX_X, D_VB_PX_Y, 's', PURPLE, 'k', L_SQ)
mk(ax, D_VGP_X, D_VGP_Y, 's', MAG, 'k', L_SQ, z=4.2)
cross(ax, D_A2_X, D_A2_Y, C_A2)
cross(ax, D_A1_X, D_A1_Y, C_A1)
cross(ax, D_B1_X, D_B1_Y, C_B1)
cross(ax, D_B2_X, D_B2_Y, C_B2)
cross(ax, D_F1_X, D_F1_Y, C_F1)
cross(ax, D_F2_X, D_F2_Y, C_F2)
cross(ax, D_M1_X, D_M1_Y, C_M1)
cross(ax, D_M2_X, D_M2_Y, C_M2)
ax.text(44.3, 0.0918, '(d)', fontsize=28, ha='center', va='center')
ax.text(72.5, 0.0559, '2011 felsic\nmelt', fontsize=ANN, ha='left', va='center', linespacing=0.95)
ax.set_ylabel('CO$_2$ (wt %)', fontsize=29)
ax.yaxis.set_label_coords(-0.168, 0.5)
ax.set_xlabel('SiO$_2$ (wt %)', fontsize=29)
ax.xaxis.set_label_coords(0.483, -0.098)

# ===== Legend (drawn in a pixel-space overlay) =====
lax = fig.add_axes([0, 0, 1, 1], zorder=-1)
lax.set_xlim(0, W)
lax.set_ylim(H, 0)
lax.axis('off')
lax.add_patch(Rectangle((124, 1510), 1544, 618, fill=False, lw=1.6, ec='k'))

LFS = 22


def lmk(x, y, marker, fc, ec, ms, mew=1.3):
    lax.plot([x], [y], ls='none', marker=marker, mfc=fc, mec=ec, ms=ms, mew=mew, clip_on=False)


def ltxt(x, y, s, fs=LFS, bold=False):
    lax.text(x, y, s, fontsize=fs, ha='left', va='center', fontweight='bold' if bold else 'normal')


LBD, LSD, LBS, LSS = 11.5, 5.5, 14.5, 6.5
ltxt(139, 1539, 'Melt inclusions', bold=True)
# left column
ltxt(157, 1584, '1235S')
lmk(183, 1620, 'D', BROWN, 'k', LBD); lmk(213, 1620, 'D', BROWN, 'k', LSD)
ltxt(242, 1620, 'Olivine')
lmk(183, 1656, 's', BROWN, 'k', LBS)
ltxt(240, 1656, 'Clino-pyroxenes')
ltxt(157, 1708, '1716-17GP')
lmk(180, 1741, 's', 'w', 'k', LBS); lmk(210, 1741, 's', 'w', 'k', LSS)
ltxt(243, 1741, 'Plagioclases, clino- and ortho-')
ltxt(243, 1777, 'pyroxenes')
ltxt(155, 1821, '2011-1PP')
lmk(178, 1856, 'D', '#CC2229', 'k', LBD); lmk(213, 1856, 'D', '#CC2229', 'k', LSD)
ltxt(241, 1858, 'Olivines')
lmk(179, 1892, 's', '#CC2229', 'k', LBS); lmk(213, 1892, 's', '#CC2229', 'k', LSS)
ltxt(240, 1894, 'Ortho-pyroxene')
ltxt(157, 1941, '2011-2SGP')
ltxt(157, 1978, '2011-3SGP')
lmk(182, 2017, 'D', 'k', 'k', LBD); lmk(211, 2017, 'D', 'k', 'k', LSD)
ltxt(238, 2019, 'Olivines')
lmk(182, 2057, 's', 'k', 'k', LBS); lmk(211, 2057, 's', 'k', 'k', LSS)
ltxt(238, 2059, 'Plagioclases, clino- and ortho-')
ltxt(238, 2097, 'pyroxenes')
# middle column
ltxt(686, 1582, '2011-4VB')
lmk(715, 1616, 'D', PURPLE, 'k', LBD); lmk(744, 1616, 'D', PURPLE, 'k', LSD)
ltxt(772, 1619, 'Olivines')
lmk(715, 1654, 's', PURPLE, 'k', LBS); lmk(744, 1654, 's', PURPLE, 'k', LSS)
ltxt(772, 1658, 'Clino- and ortho-pyroxenes')
ltxt(686, 1705, '2011-5VL')
lmk(715, 1739, 'D', '#1A1A5C', 'k', LBD); lmk(744, 1739, 'D', '#1A1A5C', 'k', LSD)
ltxt(772, 1739, 'Olivines')
lmk(715, 1776, 's', '#1A1A5C', 'k', LBS); lmk(744, 1776, 's', '#1A1A5C', 'k', LSS)
ltxt(775, 1777, 'Clino- and ortho-pyroxenes')
ltxt(684, 1824, '2011-6VA')
lmk(711, 1859, 's', BLUE6, 'k', LBS); lmk(740, 1859, 's', BLUE6, 'k', LSS)
ltxt(763, 1860, 'Clino- and ortho-pyroxenes')
ltxt(684, 1905, '2011-7VL')
lmk(712, 1938, 's', '#00FFFF', 'k', LBS); lmk(740, 1938, 's', '#00FFFF', 'k', LSS)
ltxt(763, 1938, 'Clino- and ortho-pyroxenes')
ltxt(684, 1981, '2018-1VGP')
lmk(712, 2021, 's', '#FF00FF', 'k', LBS); lmk(740, 2021, 's', '#FF00FF', 'k', LSS)
ltxt(765, 2022, 'Plagioclases, clino- and')
ltxt(765, 2058, 'ortho-pyroxenes')
# right column
ltxt(1186, 1541, 'Groundmass', bold=True)
lmk(1213, 1588, 'o', 'w', 'k', 17)
ltxt(1247, 1587, '1716-17GP')
lmk(1213, 1631, 'o', GREY, 'k', 17)
ltxt(1249, 1630, 'Eruptions in 2011')
lmk(1213, 1681, 'o', GPINK, 'k', 17)
ltxt(1250, 1680, 'Eruptions in 2018')
ltxt(1186, 1734, 'Calculations', bold=True)
CALC_LABELS = ['M1 magma at 50-500 MPa', 'M2 magma at 50-500 MPa', 'F1 magma at 50-200 MPa',
               'F2 magma at 50-200 MPa', 'A1 magma at 50-200 MPa', 'A2 magma at 50-200 MPa',
               'B1 magma at 50-200 MPa', 'B2 magma at 50-200 MPa']
CALC_COLORS = [C_M1, C_M2, C_F1, '#F0E020', C_A1, C_A2, C_B1, C_B2]
CALC_ROWS = [1780, 1815, 1852, 1891, 1932, 1973, 2007, 2048]
for lab, col, yy in zip(CALC_LABELS, CALC_COLORS, CALC_ROWS):
    lax.plot([1213.5], [yy], ls='none', marker='x', ms=11, mew=1.7, color=col, clip_on=False)
    ltxt(1249, yy, lab, fs=24.5)

fig.savefig('out.png', dpi=100)
